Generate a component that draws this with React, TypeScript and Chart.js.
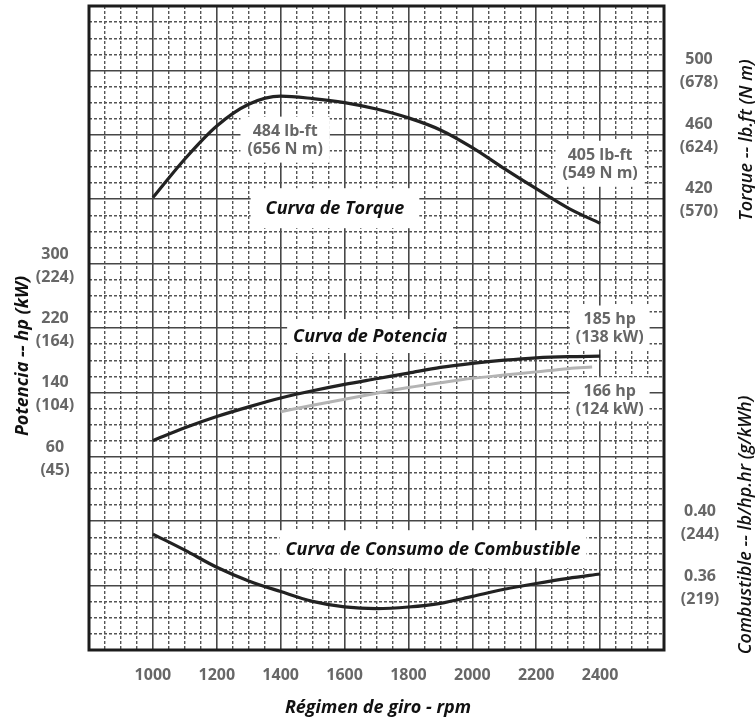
import { useEffect, useRef } from 'react';
import { Chart, registerables } from 'chart.js';

Chart.register(...registerables);

// Engine speed (rpm) shared by the full-load curves
const rpm = [1000, 1100, 1200, 1300, 1400, 1500, 1600, 1700, 1800, 1900, 2000, 2100, 2200, 2300, 2400];
// Torque, lb-ft
const torqueLbFt = [421, 445, 465.5, 479, 484, 482.5, 480, 476, 470.5, 463, 452, 439, 426.5, 414.5, 405];
// Power, hp
const powerHp = [80, 96, 110, 122, 133, 142, 150, 157, 164, 171, 176, 180, 183, 184.5, 185];
// Second power rating (light grey curve)
const altRpm = [1400, 1500, 1600, 1700, 1800, 1900, 2000, 2100, 2200, 2300, 2375];
const altPowerHp = [116, 124, 131.5, 139, 146, 152, 157.5, 161.5, 165.5, 169.5, 171.5];
// Specific fuel consumption, lb/hp.hr
const fuelLbHpHr = [0.392, 0.382, 0.3714, 0.3629, 0.3563, 0.3502, 0.3468, 0.3457, 0.3467, 0.349, 0.3533, 0.3577, 0.3613, 0.3645, 0.3672];

// Axis tick labels
const rpmLabels = [1000, 1200, 1400, 1600, 1800, 2000, 2200, 2400];
const powerTicks = [60, 140, 220, 300];
const powerTicksKw = [45, 104, 164, 224];
const torqueTicks = [420, 460, 500];
const torqueTicksNm = [570, 624, 678];
const fuelTicks = [0.36, 0.4];
const fuelTicksG = [219, 244];

type Callout = {
  x: number;
  y: number;
  scale: string;
  lines: string[];
  kind: 'value' | 'title';
  padX: number;
  padY: number;
};

const callouts: Callout[] = [
  { x: 1414, y: 457, scale: 'yT', lines: ['484 lb-ft', '(656 N m)'], kind: 'value', padX: 7, padY: 5 },
  { x: 2400, y: 442, scale: 'yT', lines: ['405 lb-ft', '(549 N m)'], kind: 'value', padX: 7, padY: 5 },
  { x: 2430, y: 220.6, scale: 'yP', lines: ['185 hp', '(138 kW)'], kind: 'value', padX: 6, padY: 4 },
  { x: 2430, y: 131.3, scale: 'yP', lines: ['166 hp', '(124 kW)'], kind: 'value', padX: 6, padY: 4 },
  { x: 1570, y: 414.4, scale: 'yT', lines: ['Curva de Torque'], kind: 'title', padX: 15, padY: 9 },
  { x: 1680, y: 210, scale: 'yP', lines: ['Curva de Potencia'], kind: 'title', padX: 6, padY: 6 },
  { x: 1877, y: 0.3826, scale: 'yF', lines: ['Curva de Consumo de Combustible'], kind: 'title', padX: 6, padY: 8 },
];

const NUM_FONT = 'bold 16px "Open Sans"';
const CURVE_FONT = 'italic bold 18px "Open Sans"';
const AXIS_TITLE_FONT = 'italic bold 18px "Open Sans"';
const SIDE_TITLE_FONT = 'italic 600 18px "Open Sans"';
const NUM_COLOR = '#676767';
const GRID_MAJOR = '#474747';
const GRID_MINOR = '#555555';

const isMajor = (v: number, origin: number, step: number) =>
  Math.abs(((v - origin) / step) - Math.round((v - origin) / step)) < 1e-6;

const pairs = (xs: number[], ys: number[]) => xs.map((x, i) => ({ x, y: ys[i] }));

function drawTwoLine(ctx: CanvasRenderingContext2D, a: string, b: string, x: number, y: number, gap: number) {
  ctx.fillText(a, x, y - gap / 2);
  ctx.fillText(b, x, y + gap / 2);
}

const enginePlugin = {
  id: 'engineCurves',
  beforeDatasetsDraw(chart: any) {
    const { ctx } = chart;
    ctx.save();
    ctx.textAlign = 'center';
    ctx.textBaseline = 'middle';
    for (const c of callouts) {
      const cx = chart.scales.x.getPixelForValue(c.x);
      const cy = chart.scales[c.scale].getPixelForValue(c.y);
      const isTitle = c.kind === 'title';
      ctx.font = isTitle ? CURVE_FONT : NUM_FONT;
      const lh = isTitle ? 22 : 18;
      const w = Math.max(...c.lines.map((l) => ctx.measureText(l).width));
      const h = lh * c.lines.length;
      ctx.fillStyle = '#ffffff';
      ctx.fillRect(cx - w / 2 - c.padX, cy - h / 2 - c.padY, w + 2 * c.padX, h + 2 * c.padY);
      ctx.fillStyle = isTitle ? '#111111' : NUM_COLOR;
      c.lines.forEach((l, i) => ctx.fillText(l, cx, cy - h / 2 + lh * (i + 0.5) + 1));
    }
    ctx.restore();
  },
  afterDraw(chart: any) {
    const { ctx, chartArea } = chart;
    const { left, right, top, bottom } = chartArea;
    ctx.save();

    // heavy frame round the plot
    ctx.strokeStyle = '#1c1c1c';
    ctx.lineWidth = 3;
    ctx.strokeRect(left, top, right - left, bottom - top);

    // stacked unit labels on the side axes
    ctx.font = NUM_FONT;
    ctx.fillStyle = NUM_COLOR;
    ctx.textAlign = 'center';
    ctx.textBaseline = 'middle';
    const yP = chart.scales.yP;
    const yT = chart.scales.yT;
    const yF = chart.scales.yF;
    powerTicks.forEach((v, i) =>
      drawTwoLine(ctx, String(v), `(${powerTicksKw[i]})`, left - 34, yP.getPixelForValue(v) + 2, 23));
    torqueTicks.forEach((v, i) =>
      drawTwoLine(ctx, String(v), `(${torqueTicksNm[i]})`, right + 35, yT.getPixelForValue(v) + 1, 23));
    fuelTicks.forEach((v, i) =>
      drawTwoLine(ctx, v.toFixed(2), `(${fuelTicksG[i]})`, right + 36, yF.getPixelForValue(v) + 2, 23));

    // axis titles
    ctx.fillStyle = '#111111';
    ctx.font = AXIS_TITLE_FONT;
    ctx.fillText('Régimen de giro - rpm', 378, 708);

    const vertical = (text: string, x: number, y: number, font: string) => {
      ctx.save();
      ctx.translate(x, y);
      ctx.rotate(-Math.PI / 2);
      ctx.font = font;
      ctx.fillText(text, 0, 0);
      ctx.restore();
    };
    vertical('Potencia -- hp (kW)', 23, 356, AXIS_TITLE_FONT);
    vertical('Torque -- lb.ft (N m)', 747, 140, SIDE_TITLE_FONT);
    vertical('Combustible -- lb/hp.hr (g/kWh)', 746, 525, SIDE_TITLE_FONT);

    ctx.restore();
  },
};

export default function App() {
  const canvasRef = useRef<HTMLCanvasElement>(null);

  useEffect(() => {
    const canvas = canvasRef.current;
    if (!canvas) return;

    const line = (data: { x: number; y: number }[], yAxisID: string, color: string, width: number) => ({
      data,
      yAxisID,
      borderColor: color,
      borderWidth: width,
      pointRadius: 0,
      fill: false,
      cubicInterpolationMode: 'monotone' as const,
    });

    const chart = new Chart(canvas, {
      type: 'line',
      data: {
        datasets: [
          line(pairs(altRpm, altPowerHp), 'yP', '#b4b4b4', 3),
          line(pairs(rpm, powerHp), 'yP', '#222222', 3.2),
          line(pairs(rpm, torqueLbFt), 'yT', '#222222', 3.2),
          line(pairs(rpm, fuelLbHpHr), 'yF', '#222222', 3.2),
        ],
      },
      options: {
        animation: false,
        responsive: false,
        devicePixelRatio: 1,
        layout: { padding: { left: 89, right: 91, top: 6, bottom: 0 } },
        plugins: { legend: { display: false }, tooltip: { enabled: false } },
        scales: {
          x: {
            type: 'linear',
            position: 'bottom',
            min: 800,
            max: 2600,
            afterFit: (s: any) => {
              s.height = 70;
            },
            ticks: {
              stepSize: 50,
              autoSkip: false,
              maxRotation: 0,
              minRotation: 0,
              padding: 16,
              color: NUM_COLOR,
              font: { family: 'Open Sans', size: 16, weight: 'bold' },
              callback: (v: any) => {
                const n = Math.round(Number(v));
                return rpmLabels.includes(n) ? String(n) : '';
              },
            },
            grid: {
              drawTicks: false,
              color: (c: any) => (isMajor(c.tick.value, 800, 200) ? GRID_MAJOR : GRID_MINOR),
              lineWidth: (c: any) => (isMajor(c.tick.value, 800, 200) ? 1.6 : 1.4),
            },
            border: {
              display: false,
              dash: (c: any) => (isMajor(c.tick.value, 800, 200) ? [] : [3, 2]),
            },
          },
          yP: {
            type: 'linear',
            position: 'left',
            min: -180,
            max: 620,
            afterFit: (s: any) => {
              s.width = 0;
            },
            ticks: { display: false, stepSize: 20 },
            grid: {
              drawTicks: false,
              color: (c: any) => (isMajor(c.tick.value, 60, 80) ? GRID_MAJOR : GRID_MINOR),
              lineWidth: (c: any) => (isMajor(c.tick.value, 60, 80) ? 1.6 : 1.4),
            },
            border: {
              display: false,
              dash: (c: any) => (isMajor(c.tick.value, 60, 80) ? [] : [3, 2]),
            },
          },
          yT: { type: 'linear', display: false, min: 140, max: 540 },
          yF: { type: 'linear', display: false, min: 0.32, max: 0.72 },
        },
      } as any,
      plugins: [enginePlugin],
    });

    return () => chart.destroy();
  }, []);

  return (
    <div style={{ position: 'absolute', left: 0, top: 0, width: 755, height: 720, background: '#ffffff' }}>
      <canvas ref={canvasRef} width={755} height={720} style={{ display: 'block', width: 755, height: 720 }} />
    </div>
  );
}
